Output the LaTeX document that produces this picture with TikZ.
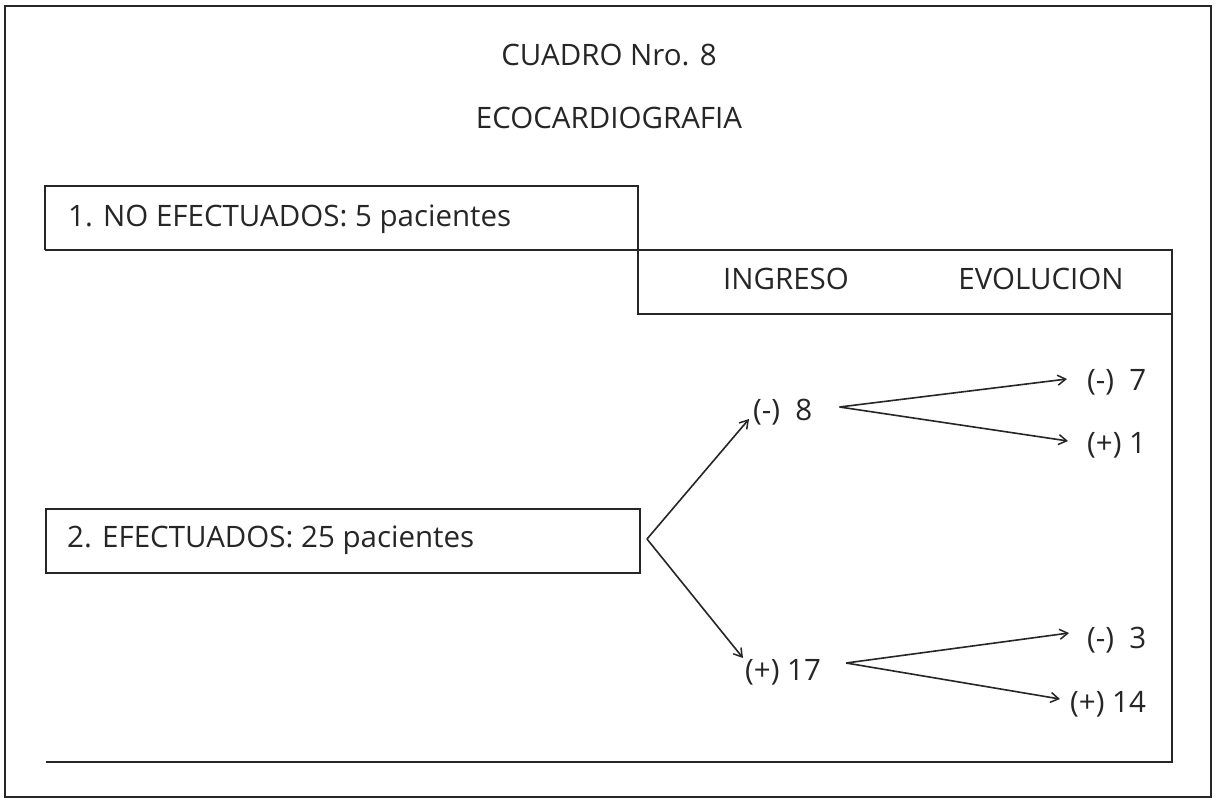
\documentclass[tikz,border=0pt]{standalone}
\usepackage{fontspec}
\setmainfont{Open Sans}
\usetikzlibrary{arrows.meta}
\begin{document}
\begin{tikzpicture}[x=1pt,y=-1pt,
  frame/.style={line width=2pt,black!85},
  lbl/.style={inner sep=0pt,font=\fontsize{29.5}{34}\selectfont,text=black!85},
  arr/.style={line width=1.6pt,black!85,-{Straight Barb[length=8pt,width=10pt,line width=1.5pt]}}]
\useasboundingbox (0,0) rectangle (1216,801);
\fill[white] (0,0) rectangle (1216,801);
% outer frame
\draw[frame] (5,6) rectangle (1211,797);
% title
\node[lbl,anchor=base] (t1) at (609,65) {CUADRO Nro. 8};
\node[lbl,anchor=base] (t2) at (609,128) {ECOCARDIOGRAFIA};
% box 1 and header
\draw[frame] (45,250) -- (45,186) -- (638,186) -- (638,314) -- (1172,314);
\draw[frame] (45,250) -- (1172,250) -- (1172,762) -- (46,762);
\node[lbl,anchor=base west] (b1) at (68,226) {1. NO EFECTUADOS: 5 pacientes};
\node[lbl,anchor=base] (ing) at (786,289) {INGRESO};
\node[lbl,anchor=base] (evo) at (1041,289) {EVOLUCION};
% box 2
\node[draw,frame,minimum width=594pt,minimum height=64pt,anchor=north west,inner sep=0pt] (b2) at (45,508) {};
\node[lbl,anchor=base west] (b2t) at (67,547) {2. EFECTUADOS: 25 pacientes};
% tree nodes
\node[lbl,anchor=base west] (n8) at (753,420) {(-)~~8};
\node[lbl,anchor=base west] (n17) at (745,680) {(+) 17};
\node[lbl,anchor=base west] (n7) at (1087,390) {(-)~~7};
\node[lbl,anchor=base west] (n1) at (1087,453) {(+) 1};
\node[lbl,anchor=base west] (n3) at (1087,648) {(-)~~3};
\node[lbl,anchor=base west] (n14) at (1070,712) {(+) 14};
% connectors
\coordinate (s) at ([shift={(6,-2)}]b2.east);
\draw[arr] (s) -- ([shift={(-4,-1)}]n8.base west);
\draw[arr] (s) -- ([shift={(-2,-22)}]n17.base west);
\coordinate (s8) at ([shift={(27,-13)}]n8.base east);
\draw[arr] (s8) -- ([shift={(-20,-11)}]n7.base west);
\draw[arr] (s8) -- ([shift={(-19,-12)}]n1.base west);
\coordinate (s17) at ([shift={(25,-17)}]n17.base east);
\draw[arr] (s17) -- ([shift={(-18,-15)}]n3.base west);
\draw[arr] (s17) -- ([shift={(-10,-13)}]n14.base west);
\end{tikzpicture}
\end{document}
